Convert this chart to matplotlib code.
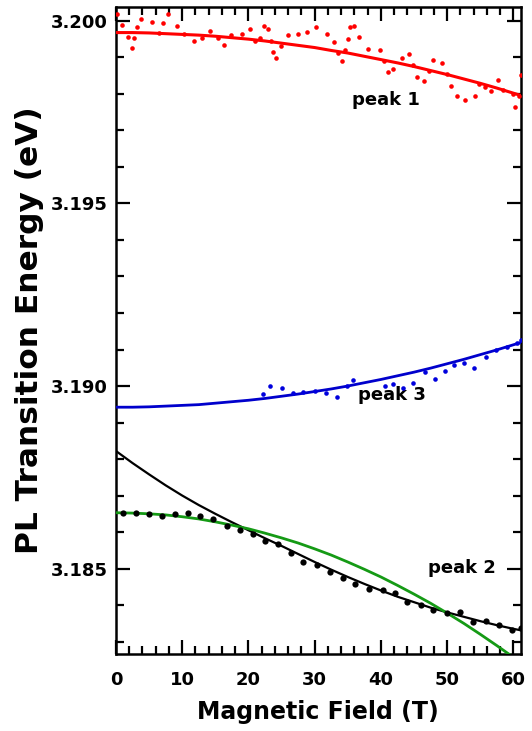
import matplotlib
matplotlib.use("Agg")
import matplotlib.pyplot as plt
from matplotlib.ticker import MultipleLocator, FormatStrFormatter

plt.rcParams['font.family'] = ['DejaVu Sans']
plt.rcParams['font.weight'] = 'bold'

# ---- data ----
peak1_B = [0.2, 0.95, 1.76, 2.37, 2.72, 3.12, 3.83, 5.49, 6.49, 7.05, 7.8, 9.16, 10.27, 11.83,
           12.94, 14.2, 15.36, 16.26, 17.37, 18.98, 20.24, 21.0, 21.75, 22.35, 22.9, 23.36,
           23.76, 24.16, 24.92, 25.93, 27.53, 28.9, 30.15, 31.86, 32.97, 33.57, 34.13, 34.58,
           34.99, 35.34, 35.89, 36.7, 38.1, 39.87, 40.47, 41.08, 41.88, 43.14, 44.3, 44.8,
           45.4, 46.56, 47.32, 47.92, 49.18, 49.93, 50.59, 51.45, 52.7, 54.21, 54.87, 55.68,
           56.63, 57.64, 58.49, 59.9, 60.25, 60.9, 61.1]
peak1_E = [3.20019, 3.19988, 3.19957, 3.19927, 3.19954, 3.19984, 3.20005, 3.19996, 3.19966,
           3.19994, 3.20019, 3.19987, 3.19964, 3.19946, 3.19954, 3.19973, 3.19954, 3.19934,
           3.19962, 3.19964, 3.19978, 3.19946, 3.19954, 3.19986, 3.19977, 3.19946, 3.19914,
           3.19898, 3.19930, 3.19960, 3.19964, 3.19969, 3.19984, 3.19964, 3.19942, 3.19912,
           3.19890, 3.19921, 3.19951, 3.19982, 3.19986, 3.19955, 3.19923, 3.19921, 3.19890,
           3.19861, 3.19868, 3.19898, 3.19909, 3.19878, 3.19846, 3.19836, 3.19864, 3.19893,
           3.19886, 3.19855, 3.19823, 3.19793, 3.19784, 3.19795, 3.19827, 3.19818, 3.19809,
           3.19838, 3.19811, 3.19799, 3.19765, 3.19793, 3.19852]

peak3_B = [22.15, 23.26, 25.02, 26.68, 28.29, 30.05, 31.71, 33.42, 34.83, 35.84, 40.62, 41.88,
           43.39, 44.9, 46.66, 48.2, 49.6, 51.0, 52.5, 54.0, 55.8, 57.4, 59.0, 60.5, 61.1]
peak3_E = [3.18978, 3.19001, 3.18994, 3.18982, 3.18983, 3.18987, 3.18980, 3.18971, 3.19000,
           3.19016, 3.19000, 3.19005, 3.18994, 3.19009, 3.19039, 3.19020, 3.19042, 3.19058,
           3.19062, 3.19050, 3.19080, 3.19098, 3.19108, 3.19118, 3.19125]

peak2_B = [1.01, 2.97, 4.98, 6.9, 8.91, 10.82, 12.68, 14.7, 16.71, 18.73, 20.64, 22.55, 24.51,
           26.38, 28.29, 30.3, 32.32, 34.23, 36.09, 38.26, 40.27, 42.13, 43.99, 46.01, 47.92,
           49.93, 51.95, 53.96, 55.83, 57.84, 59.76, 61.1]
peak2_E = [3.18651, 3.18651, 3.18649, 3.18644, 3.18649, 3.18651, 3.18644, 3.18635, 3.18617,
           3.18607, 3.18596, 3.18576, 3.18567, 3.18542, 3.18519, 3.18510, 3.18490, 3.18473,
           3.18459, 3.18443, 3.18441, 3.18432, 3.18409, 3.18400, 3.18386, 3.18379, 3.18382,
           3.18354, 3.18357, 3.18345, 3.18333, 3.18336]

# fit curves
fit_B = [0, 2.5, 5, 7.5, 10, 12.5, 15, 17.5, 20, 22.5, 25, 27.5, 30, 32.5, 35, 37.5, 40,
         42.5, 45, 47.5, 50, 52.5, 55, 57.5, 60, 61.1]
fit1_E = [3.19968, 3.19968, 3.19967, 3.19965, 3.19963, 3.19961, 3.19958, 3.19954, 3.19950,
          3.19945, 3.19939, 3.19933, 3.19927, 3.19919, 3.19912, 3.19903, 3.19894, 3.19885,
          3.19875, 3.19864, 3.19853, 3.19841, 3.19829, 3.19816, 3.19802, 3.19796]
fit3_E = [3.18942, 3.18942, 3.18943, 3.18945, 3.18947, 3.18949, 3.18953, 3.18957, 3.18961,
          3.18966, 3.18972, 3.18978, 3.18985, 3.18992, 3.19000, 3.19009, 3.19018, 3.19028,
          3.19038, 3.19049, 3.19061, 3.19073, 3.19086, 3.19099, 3.19113, 3.19119]
fit2_black_E = [3.18822, 3.18789, 3.18758, 3.18728, 3.18700, 3.18674, 3.18650, 3.18627,
                3.18605, 3.18583, 3.18562, 3.18540, 3.18518, 3.18497, 3.18477, 3.18458,
                3.18440, 3.18423, 3.18408, 3.18393, 3.18380, 3.18368, 3.18356, 3.18345,
                3.18335, 3.18331]
fit2_green_E = [3.18653, 3.18652, 3.18650, 3.18647, 3.18642, 3.18636, 3.18628, 3.18619,
                3.18609, 3.18597, 3.18584, 3.18570, 3.18554, 3.18537, 3.18518, 3.18498,
                3.18477, 3.18454, 3.18430, 3.18405, 3.18378, 3.18350, 3.18320, 3.18289,
                3.18257, 3.18242]

x_ticks = [0, 10, 20, 30, 40, 50, 60]
y_ticks = [3.185, 3.190, 3.195, 3.200]

fig = plt.figure(figsize=(5.32, 7.31), dpi=100)
ax = fig.add_axes([0.218, 0.1053, 0.7608, 0.8851])

ax.plot(fit_B, fit1_E, color='#ff0000', lw=2.2, zorder=3)
ax.plot(peak1_B, peak1_E, 'o', color='#ff0000', ms=3.3, mec='none', zorder=4)

ax.plot(fit_B, fit3_E, color='#0000cc', lw=2.0, zorder=3)
ax.plot(peak3_B, peak3_E, 'o', color='#0000dd', ms=3.3, mec='none', zorder=4)

ax.plot(fit_B, fit2_black_E, color='black', lw=1.6, zorder=3)
ax.plot(fit_B, fit2_green_E, color='#159a15', lw=2.0, zorder=3)
ax.plot(peak2_B, peak2_E, 'o', color='black', ms=4.5, mec='none', zorder=4)

ax.text(40.8, 3.19784, 'peak 1', ha='center', va='center', fontsize=13, fontweight='bold')
ax.text(41.7, 3.18975, 'peak 3', ha='center', va='center', fontsize=13, fontweight='bold')
ax.text(52.3, 3.18501, 'peak 2', ha='center', va='center', fontsize=13, fontweight='bold')

ax.set_xlim(0, 61.1)
ax.set_ylim(3.18266, 3.20038)
ax.set_xticks(x_ticks)
ax.set_yticks(y_ticks)
ax.xaxis.set_minor_locator(MultipleLocator(2))
ax.yaxis.set_minor_locator(MultipleLocator(0.001))
ax.yaxis.set_major_formatter(FormatStrFormatter('%.3f'))
ax.tick_params(which='both', direction='in', top=True, right=True, width=1.6)
ax.tick_params(which='major', length=10, labelsize=13)
ax.tick_params(which='minor', length=5.5)
ax.tick_params(axis='x', which='major', pad=12)
ax.tick_params(axis='y', which='major', pad=6)
for lab in ax.get_xticklabels() + ax.get_yticklabels():
    lab.set_fontweight('bold')
for s in ax.spines.values():
    s.set_linewidth(1.8)

ax.set_xlabel('Magnetic Field (T)', fontsize=17, fontweight='bold', labelpad=8)
ax.set_ylabel('PL Transition Energy (eV)', fontsize=22.5, fontweight='bold', labelpad=5)

fig.savefig('out.png', dpi=100)
